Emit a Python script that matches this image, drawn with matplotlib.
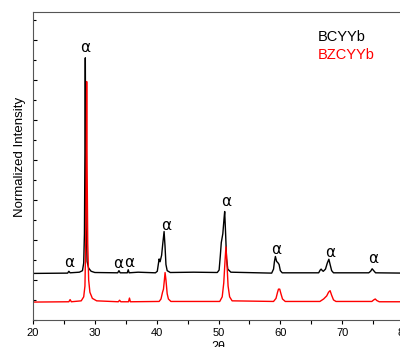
import matplotlib
matplotlib.use('Agg')
import matplotlib.pyplot as plt
from matplotlib.ticker import MultipleLocator

plt.rcParams['font.family'] = ['Liberation Sans', 'DejaVu Sans']

# BCYYb pattern (2theta, normalized intensity)
bcyyb_2t = [20.0, 25.6, 25.8, 26.0, 27.5, 28.0, 28.2, 28.32, 28.4, 28.46, 28.52, 28.6,
            28.75, 29.0, 29.4, 30.0, 33.7, 33.9, 34.1, 35.25, 35.4, 35.55, 37.0, 39.8,
            40.1, 40.3, 40.4, 40.55, 40.8, 41.0, 41.2, 41.35, 41.5, 41.7, 42.2, 46.0,
            49.8, 50.1, 50.3, 50.45, 50.7, 50.9, 51.0, 51.15, 51.3, 51.5, 52.0, 58.6,
            58.9, 59.05, 59.2, 59.4, 59.6, 59.8, 60.0, 60.3, 66.2, 66.45, 66.6, 66.8,
            66.95, 67.3, 67.6, 67.85, 68.05, 68.3, 68.6, 74.3, 74.6, 74.85, 75.1, 75.4,
            80.0]
bcyyb_int = [15.1, 15.2, 15.8, 15.3, 15.5, 16.0, 18.5, 28.0, 55.0, 85.1, 55.0, 30.0,
             19.0, 16.8, 15.8, 15.4, 15.3, 16.0, 15.3, 15.3, 16.3, 15.3, 15.5, 15.3,
             15.8, 18.5, 19.8, 18.9, 21.0, 25.0, 28.7, 24.0, 18.0, 16.0, 15.4, 15.5,
             15.4, 16.2, 21.0, 25.1, 28.0, 33.0, 35.2, 28.0, 20.0, 16.5, 15.5, 15.2,
             16.5, 19.0, 20.6, 19.0, 18.6, 18.0, 16.0, 15.3, 15.3, 16.2, 16.5, 16.0,
             15.8, 16.5, 18.5, 19.7, 18.0, 16.0, 15.3, 15.3, 15.8, 16.6, 16.0, 15.3,
             15.2]

# BZCYYb pattern
bzcyyb_2t = [20.0, 25.8, 26.0, 26.2, 27.8, 28.2, 28.4, 28.53, 28.62, 28.68, 28.75, 28.85,
             29.0, 29.2, 29.6, 30.3, 33.8, 34.0, 34.2, 35.45, 35.6, 35.75, 40.4, 40.7,
             40.95, 41.1, 41.25, 41.36, 41.5, 41.7, 41.9, 42.3, 50.2, 50.6, 50.85, 51.05,
             51.2, 51.35, 51.55, 51.8, 52.2, 58.9, 59.3, 59.55, 59.7, 59.9, 60.1, 60.35,
             60.8, 66.4, 67.0, 67.5, 67.8, 68.05, 68.3, 68.6, 69.0, 74.8, 75.1, 75.35,
             75.6, 76.0, 80.0]
bzcyyb_int = [5.8, 5.9, 6.6, 5.9, 6.2, 7.5, 11.0, 25.0, 55.0, 77.4, 50.0, 25.0,
              13.0, 9.0, 7.0, 6.2, 5.9, 6.4, 5.9, 5.9, 7.1, 5.9, 6.0, 6.8,
              9.0, 10.0, 13.0, 15.4, 13.0, 8.5, 6.8, 6.0, 6.0, 7.5, 12.0, 19.0,
              23.7, 19.0, 11.0, 7.5, 6.2, 6.0, 7.0, 9.0, 10.0, 10.0, 8.5, 6.8,
              6.0, 6.0, 6.8, 7.8, 9.0, 9.5, 8.0, 6.5, 6.0, 6.0, 6.5, 6.8,
              6.3, 5.9, 5.9]

# alpha phase markers
alpha_2t = [25.8, 28.5, 33.8, 35.6, 41.5, 51.2, 59.3, 68.0, 75.0]
alpha_y = [18.5, 88.6, 18.3, 18.8, 30.8, 38.3, 23.0, 22.0, 20.0]

fig = plt.figure(figsize=(4.0, 3.47), dpi=100)
ax = fig.add_axes([0.0825, 0.078, 0.9275, 0.8876])

ax.plot(bcyyb_2t, bcyyb_int, color='black', lw=1.0)
ax.plot(bzcyyb_2t, bzcyyb_int, color='red', lw=1.0)

for x, y in zip(alpha_2t, alpha_y):
    ax.text(x, y, '\u03b1', ha='center', va='center', fontsize=11,
            family=['DejaVu Sans'])

ax.text(66.1, 91.9, 'BCYYb', color='black', fontsize=10.5, va='center')
ax.text(66.1, 86.0, 'BZCYYb', color='red', fontsize=10.5, va='center')

ax.set_xlim(20, 80)
ax.set_ylim(0, 100)
ax.xaxis.set_major_locator(MultipleLocator(10))
ax.xaxis.set_minor_locator(MultipleLocator(5))
ax.yaxis.set_major_locator(MultipleLocator(13))
ax.yaxis.set_minor_locator(MultipleLocator(6.5))
ax.tick_params(axis='x', which='both', direction='out', length=3, width=0.8,
               labelsize=8, pad=3)
ax.tick_params(axis='y', which='major', direction='in', length=3, width=0.8,
               labelleft=False)
ax.tick_params(axis='y', which='minor', direction='in', length=2, width=0.8)
ax.tick_params(top=False, right=False)
for s in ax.spines.values():
    s.set_color('#555555')
    s.set_linewidth(0.8)

ax.set_ylabel('Normalized Intensity', fontsize=9.5, va='center')
ax.yaxis.set_label_coords(-0.035, 0.53)
ax.set_xlabel('2\u03b8', fontsize=9, labelpad=2)

fig.savefig('out.png', dpi=100)
